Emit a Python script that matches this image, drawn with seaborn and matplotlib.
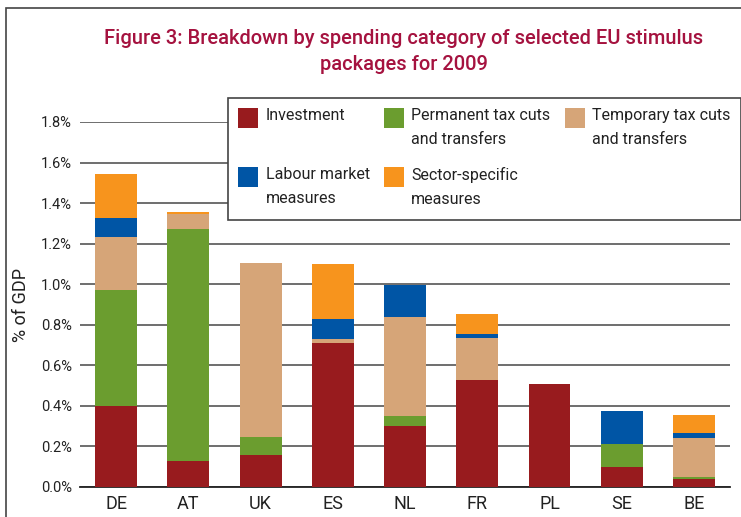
import numpy as np
import pandas as pd
import seaborn as sns
import matplotlib.pyplot as plt
from matplotlib.patches import Patch, Rectangle
from matplotlib.legend_handler import HandlerPatch

countries = ['DE', 'AT', 'UK', 'ES', 'NL', 'FR', 'PL', 'SE', 'BE']
investment = [0.40, 0.13, 0.16, 0.71, 0.30, 0.53, 0.51, 0.10, 0.04]
permanent = [0.57, 1.14, 0.085, 0.0, 0.05, 0.0, 0.0, 0.11, 0.01]
temporary = [0.265, 0.075, 0.86, 0.02, 0.49, 0.205, 0.0, 0.0, 0.19]
labour = [0.09, 0.0, 0.0, 0.10, 0.155, 0.02, 0.0, 0.165, 0.025]
sector = [0.22, 0.01, 0.0, 0.27, 0.0, 0.10, 0.0, 0.0, 0.09]

series = ['Investment\n ', 'Permanent tax cuts\nand transfers', 'Temporary tax cuts\nand transfers',
          'Labour market\nmeasures', 'Sector-specific\nmeasures']
colors = ['#981b1e', '#6b9d2f', '#d6a578', '#0055a5', '#f7941d']

df = pd.DataFrame({'country': countries, 'Investment': investment, 'Permanent': permanent,
                   'Temporary': temporary, 'Labour': labour, 'Sector': sector})
cols = ['Investment', 'Permanent', 'Temporary', 'Labour', 'Sector']
cum = df[cols].cumsum(axis=1)
cum['country'] = df['country']

sns.set_style('white')
plt.rcParams['font.family'] = ['Roboto', 'DejaVu Sans']

fig = plt.figure(figsize=(7.41, 5.17), dpi=100)
ax = fig.add_axes([80 / 741, (517 - 487) / 517, 650 / 741, 365 / 517])

# draw cumulative totals from the top layer down so each segment shows
for c, col in reversed(list(zip(colors, cols))):
    sns.barplot(data=cum, x='country', y=col, order=countries, color=c,
                saturation=1, width=0.58, ax=ax, zorder=3, linewidth=0, edgecolor='none')

ax.set_ylim(0, 1.8)
ax.set_xlim(-0.5, 8.5)
yt = np.arange(0, 1.81, 0.2)
ax.set_yticks(yt)
ax.set_yticklabels(['{:.1f}%'.format(v) for v in yt], fontsize=10.5, color='#222222')
ax.tick_params(axis='x', labelsize=13, length=0, pad=6, colors='#222222')
ax.tick_params(axis='y', length=0, pad=6)
ax.grid(axis='y', color='#555555', linewidth=1.2, zorder=0)
ax.set_axisbelow(True)
for s in ['top', 'right', 'left']:
    ax.spines[s].set_visible(False)
ax.spines['bottom'].set_color('#222222')
ax.spines['bottom'].set_linewidth(1.3)
ax.set_xlabel('')
ax.set_ylabel('% of GDP', fontsize=13, color='#222222', labelpad=8)


# square swatch sitting at the top of a tall handle box (next to the first text line)
def top_square(legend, orig_handle, xdescent, ydescent, width, height, fontsize):
    return Rectangle((-xdescent, -ydescent + height - width), width, width)


handles = [Patch(facecolor=c, edgecolor='none') for c in colors]
order = [0, 3, 1, 4, 2]
leg = ax.legend([handles[i] for i in order], [series[i] for i in order], ncol=3,
                loc='upper left', bbox_to_anchor=(148 / 650, 1 + 24 / 365), borderaxespad=0,
                frameon=True, fancybox=False, framealpha=1, fontsize=11.5, handlelength=1.25,
                handleheight=3.7, columnspacing=0.9, labelspacing=1.0,
                borderpad=0.65, handletextpad=0.45,
                handler_map={Patch: HandlerPatch(patch_func=top_square)})
leg.get_frame().set_edgecolor('#444444')
leg.get_frame().set_linewidth(1.2)
leg.set_zorder(5)
for t in leg.get_texts():
    t.set_color('#222222')
    t.set_linespacing(1.75)

fig.text(0.545, 0.9, 'Figure 3: Breakdown by spending category of selected EU stimulus\npackages for 2009',
         ha='center', va='center', fontsize=14.5, fontweight='medium', color='#a5123f', linespacing=1.5)

fig.patches.append(Rectangle((6 / 741, -0.1), 1.2, (517 - 8) / 517 + 0.1, transform=fig.transFigure,
                             fill=False, edgecolor='#444444', linewidth=1.2))

fig.savefig('out.png', dpi=100)
